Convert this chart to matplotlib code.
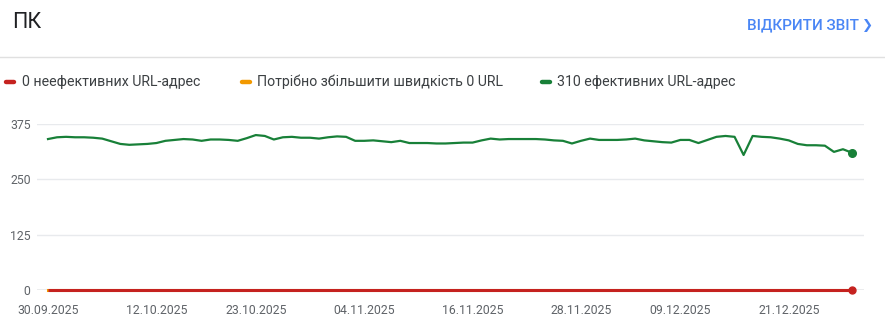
import numpy as np
import pandas as pd
import matplotlib
matplotlib.use("Agg")
import matplotlib.pyplot as plt
import matplotlib.dates as mdates
from matplotlib.lines import Line2D

plt.rcParams['font.family'] = ['Roboto', 'DejaVu Sans']

# Data
dates = pd.date_range("2025-09-30", "2025-12-28", freq="D")
good_urls = [341, 345, 346, 345, 345, 344, 342, 336, 330, 328,
             329, 330, 332, 337, 339, 341, 340, 337, 340, 340,
             339, 337, 343, 350, 348, 340, 345, 346, 344, 344,
             342, 345, 347, 346, 337, 337, 338, 336, 334, 337,
             332, 332, 332, 331, 331, 332, 333, 333, 338, 342,
             340, 341, 341, 341, 341, 340, 338, 337, 331, 337,
             342, 339, 339, 339, 340, 342, 338, 336, 334, 333,
             339, 339, 332, 339, 346, 348, 346, 305, 348, 346,
             345, 342, 338, 330, 327, 327, 326, 312, 318, 310]
poor_urls = [0] * len(dates)
needs_work_urls = [0] * len(dates)

tick_dates = ["2025-09-30", "2025-10-12", "2025-10-23", "2025-11-04",
              "2025-11-16", "2025-11-28", "2025-12-09", "2025-12-21"]
y_ticks = [0, 125, 250, 375]

legend_labels = ["0 неефективних URL-адрес",
                 "Потрібно збільшити швидкість 0 URL",
                 "310 ефективних URL-адрес"]

RED = "#c5221f"
ORANGE = "#f29900"
GREEN = "#188038"

W, H = 885, 321
fig = plt.figure(figsize=(W / 100, H / 100), dpi=100)

# header
fig.text(12 / W, 1 - 22 / H, "ПК", fontsize=15.5, color="#202124", va="center", ha="left")
fig.text(747 / W, 1 - 25.5 / H, "ВІДКРИТИ ЗВІТ", fontsize=11, color="#4a86f5",
         fontweight="medium", va="center", ha="left")
fig.text(873 / W, 1 - 25.5 / H, "❯", fontsize=9.5, color="#4a86f5",
         va="center", ha="right", family=['DejaVu Sans'])
fig.add_artist(Line2D([0, 1], [1 - 57 / H, 1 - 57 / H], transform=fig.transFigure,
                      color="#e0e0e0", lw=1))

# legend row
leg_x = [(4, 22), (240, 257), (540, 557)]
for (mx, tx), lab, col in zip(leg_x, legend_labels, [RED, ORANGE, GREEN]):
    fig.add_artist(Line2D([(mx + 2) / W, (mx + 10) / W], [1 - 82 / H, 1 - 82 / H],
                          transform=fig.transFigure, color=col, lw=3.2,
                          solid_capstyle="round"))
    fig.text(tx / W, 1 - 82 / H, lab, fontsize=10.15, color="#3c4043",
             va="center", ha="left")

# plot area
ax = fig.add_axes([37 / W, (H - 290) / H, (864 - 37) / W, (290 - 124) / H])
x = mdates.date2num(dates)
ax.plot(x, needs_work_urls, color=ORANGE, lw=2.2, zorder=3, clip_on=False)
ax.plot(x, poor_urls, color=RED, lw=2.2, zorder=4, clip_on=False, solid_capstyle="butt")
ax.plot(x, good_urls, color=GREEN, lw=1.6, zorder=4, clip_on=False)
ax.plot(x[-1], poor_urls[-1], "o", color=RED, ms=5, zorder=5, clip_on=False)
ax.plot(x[-1], good_urls[-1], "o", color=GREEN, ms=5.5, zorder=5, clip_on=False)

day = 1.0
ax.set_xlim(x[0] - 11 / 9.034 * day, x[-1] + 12 / 9.034 * day)
ax.set_ylim(0, 375)

ax.set_yticks(y_ticks)
ax.set_yticklabels([str(v) for v in y_ticks])
tx_num = mdates.date2num(pd.to_datetime(tick_dates))
ax.set_xticks(tx_num)
ax.set_xticklabels([pd.Timestamp(d).strftime("%d.%m.%Y") for d in tick_dates])

for v in y_ticks[1:]:
    ax.axhline(v, color="#e8eaed", lw=1, zorder=1)
ax.axhline(0, color="#9aa0a6", lw=1, zorder=2)

for s in ax.spines.values():
    s.set_visible(False)
ax.tick_params(axis="both", length=0, labelsize=8.8, labelcolor="#5f6368")
ax.tick_params(axis="y", pad=4.5)
ax.tick_params(axis="x", pad=10)

fig.savefig("out.png", dpi=100)
